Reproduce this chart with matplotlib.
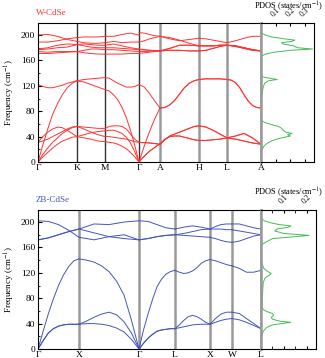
import matplotlib
matplotlib.use('Agg')
import matplotlib.pyplot as plt
from matplotlib.ticker import MultipleLocator
import numpy as np

plt.rcParams['font.family'] = ['Liberation Serif', 'DejaVu Serif']
plt.rcParams['mathtext.fontset'] = 'stix'
plt.rcParams['font.size'] = 6.8

# ---------------- W-CdSe (wurtzite) ----------------
w_labels = ['Γ', 'K', 'M', 'Γ', 'A', 'H', 'L', 'A']
w_kpts = [0, 39, 67, 101, 122, 161, 189, 223]   # path distance of symmetry points
# each band: frequencies (cm^-1) read at evenly spaced points of every segment
# segments: Γ-K, K-M, M-Γ, Γ-A, A-H, H-L, L-A
w_bands = [
    [[0, 27, 52, 75, 92, 106, 117, 124, 128], [128, 126, 122, 118, 114],
     [114, 112, 106, 98, 86, 70, 50, 26, 0], [0, 25, 48, 68, 85],
     [85, 86, 90, 97, 107, 117, 124, 128, 130], [130, 131, 131, 131, 130],
     [130, 129, 125, 117, 106, 96, 89, 86, 85]],
    [[122, 119, 117, 117, 119, 121, 124, 126, 128], [128, 130, 131, 132, 133],
     [133, 132, 128, 124, 121, 118, 118, 119, 122], [122, 118, 108, 96, 85],
     [85, 86, 90, 97, 107, 117, 124, 128, 130], [130, 131, 131, 131, 130],
     [130, 129, 125, 117, 106, 96, 89, 86, 85]],
    [[31, 40, 47, 52, 55, 54, 50, 45, 40], [40, 43, 46, 48, 49],
     [49, 50, 50, 48, 45, 39, 30, 16, 0], [0, 5, 9, 13, 17, 20, 23, 26, 28],
     [28, 35, 41, 44, 47, 50, 53, 56, 57], [57, 55, 50, 44, 38], [38, 41, 45, 38, 28]],
    [[31, 33, 36, 40, 44, 48, 52, 55, 56], [56, 55, 54, 53, 53],
     [53, 56, 57, 57, 56, 52, 44, 36, 31], [31, 30.5, 30, 29, 28],
     [28, 36, 40, 41, 41, 39, 37, 35, 34], [34, 34, 35, 36, 38], [38, 36, 33, 30, 28]],
    [[0, 12, 22, 31, 38, 45, 50, 54, 56], [56, 52, 47, 43, 40],
     [40, 40, 39, 38, 37, 36, 34, 32, 31], [31, 30.5, 30, 29, 28],
     [28, 35, 41, 44, 47, 50, 53, 56, 57], [57, 55, 50, 44, 38], [38, 41, 45, 38, 28]],
    [[0, 8, 15, 22, 28, 33, 36, 39, 40], [40, 38, 36, 33, 32],
     [32, 31, 30, 28, 25, 21, 15, 8, 0], [0, 5, 9, 13, 17, 20, 23, 26, 28],
     [28, 36, 40, 41, 41, 39, 37, 35, 34], [34, 34, 35, 36, 38], [38, 36, 33, 30, 28]],
    [[200, 201, 198, 193, 190], [190, 188, 187, 187, 188], [188, 190, 188, 189, 189],
     [189, 191, 194, 196, 198], [198, 196, 192, 187, 183], [183, 183, 183, 184, 184],
     [184, 183, 180, 177, 175]],
    [[189, 189, 191, 194, 196], [196, 197, 197, 197, 198], [198, 198, 201, 203, 200],
     [204, 203, 201, 199, 198], [198, 194, 191, 193, 195], [195, 194, 192, 190, 188],
     [188, 191, 195, 198, 198]],
    [[178, 180, 184, 186, 185], [185, 186, 185, 184, 184], [184, 186, 183, 180, 178],
     [178, 177, 176, 175.5, 175], [175, 176, 176, 175, 175], [175, 176, 179, 182, 184],
     [184, 182, 179, 176, 175]],
    [[177, 178, 180, 181, 185], [185, 183, 181, 180, 180], [180, 180, 179, 178, 177],
     [177, 176.5, 176, 175.5, 175], [175, 179, 184, 184, 183], [183, 183, 183, 184, 184],
     [184, 183, 180, 177, 175]],
    [[174, 173, 174, 174, 174], [174, 176, 178, 178, 177], [177, 177, 176, 175, 174],
     [174, 174, 174.5, 175, 175], [175, 176, 176, 175, 175], [175, 176, 179, 182, 184],
     [184, 182, 179, 176, 175]],
    [[171, 171, 172, 173, 174], [174, 172, 171, 170, 170], [170, 170, 170, 171, 171],
     [171, 172, 173, 174, 175], [175, 179, 184, 184, 183], [183, 183, 183, 184, 184],
     [184, 183, 180, 177, 175]],
]
w_dos_freq = [0, 10, 18, 25, 30, 34, 37, 39, 41, 43, 45, 47, 50, 53, 56, 59, 62, 65, 68, 98, 105, 112,
              118, 124, 128, 130, 132, 134, 136, 164, 167, 170, 173, 176, 178, 180, 183, 186, 188, 190,
              192, 194, 197, 200, 203, 206, 219]
w_dos = [0, 0, 0.005, 0.02, 0.045, 0.08, 0.12, 0.16, 0.2, 0.18, 0.21, 0.17, 0.15, 0.14, 0.12, 0.07, 0.03,
         0.005, 0, 0, 0.005, 0.01, 0.015, 0.025, 0.05, 0.11, 0.06, 0.01, 0, 0, 0.005, 0.03, 0.09, 0.2, 0.35,
         0.25, 0.22, 0.15, 0.14, 0.21, 0.23, 0.16, 0.07, 0.03, 0.005, 0, 0]

# ---------------- ZB-CdSe (zinc blende) ----------------
zb_labels = ['Γ', 'X', 'Γ', 'L', 'X', 'W', 'L']
zb_kpts = [0, 41, 101, 137, 172, 194, 223]
# segments: Γ-X, X-Γ, Γ-L, L-X, X-W, W-L
zb_bands = [
    [[0, 28, 55, 79, 100, 117, 130, 139, 142], [142, 140, 137, 131, 122, 107, 85, 45, 0],
     [0, 30, 55, 78, 98, 110, 118, 122, 124], [124, 121, 119, 120, 123, 128, 135, 139, 141],
     [141, 139, 136, 133, 131], [131, 127, 121, 121, 124]],
    [[0, 13, 25, 32, 36, 38, 39, 39, 39], [39, 40, 40, 39, 37, 33, 27, 15, 0],
     [0, 9, 17, 23, 28, 30, 31, 32, 32], [32, 38, 45, 51, 53, 51, 47, 42, 39],
     [39, 48, 55, 58, 58], [58, 56, 48, 40, 32]],
    [[0, 13, 25, 32, 36, 38, 39, 39, 39], [39, 44, 50, 55, 58, 54, 43, 25, 0],
     [0, 9, 17, 23, 28, 30, 31, 32, 32], [32, 35, 38, 39, 39],
     [39, 42, 45, 47, 48], [48, 46, 42, 37, 32]],
    [[172, 175, 180, 185, 189], [189, 197, 196, 200, 202], [202, 201, 196, 191, 189],
     [189, 192, 194, 192, 189], [189, 193, 196, 197, 197], [197, 197, 194, 191, 189]],
    [[172, 175, 180, 185, 189], [189, 183, 177, 174, 172], [172, 174, 177, 179, 180],
     [180, 182, 185, 188, 189], [189, 189, 189, 188, 188], [188, 186, 184, 182, 180]],
    [[202, 201, 196, 187, 176], [176, 172, 177, 180, 172], [172, 174, 177, 179, 180],
     [180, 179, 178, 177, 176], [176, 174, 171, 169, 168], [168, 170, 174, 178, 180]],
]
zb_dos_freq = [0, 10, 20, 28, 34, 38, 40, 42, 44, 47, 50, 53, 56, 59, 62, 66, 80, 95, 105, 112, 116, 119,
               122, 127, 133, 139, 142, 163, 166, 170, 174, 177, 179, 182, 186, 189, 192, 194, 196, 199,
               202, 205, 207, 219]
zb_dos = [0, 0, 0.003, 0.01, 0.025, 0.05, 0.09, 0.13, 0.08, 0.05, 0.045, 0.055, 0.05, 0.025, 0.01, 0.005,
          0.006, 0.008, 0.01, 0.018, 0.035, 0.045, 0.03, 0.012, 0.006, 0.002, 0, 0, 0.01, 0.03, 0.05, 0.15,
          0.21, 0.1, 0.06, 0.07, 0.12, 0.13, 0.08, 0.04, 0.015, 0.003, 0, 0]

fig = plt.figure(figsize=(3.25, 3.58), dpi=100)
W, H = 325, 358


def box(x0, y0, x1, y1):
    return [x0 / W, 1 - y1 / H, (x1 - x0) / W, (y1 - y0) / H]


def draw_panel(ax, pax, kpts, labels, bands, color, dos_f, dos_v, dos_max, dos_ticks, dos_minor,
               dark_lines):
    for band in bands:
        for i, seg in enumerate(band):
            ks = np.linspace(kpts[i], kpts[i + 1], len(seg))
            ax.plot(ks, seg, color=color, lw=0.7)
    for j, k in enumerate(kpts[1:-1]):
        if j < dark_lines:
            ax.axvline(k, color='#333333', lw=1.0, zorder=0)
        else:
            ax.axvline(k, color='#999999', lw=1.8, zorder=0)
    ax.set_xlim(kpts[0], kpts[-1])
    ax.set_ylim(0, 219)
    ax.set_xticks(kpts)
    ax.set_xticklabels(labels, fontsize=6.8)
    ax.set_yticks([0, 40, 80, 120, 160, 200])
    ax.set_yticklabels(['0', '40', '80', '120', '160', '200'], fontsize=6.8)
    ax.yaxis.set_minor_locator(MultipleLocator(20))
    ax.tick_params(axis='x', length=0, pad=1.5)
    ax.tick_params(axis='y', which='both', direction='in', pad=2)
    ax.tick_params(axis='y', which='major', length=3)
    ax.tick_params(axis='y', which='minor', length=1.5)
    ax.set_ylabel('Frequency (cm$^{-1}$)', labelpad=3, fontsize=6.5)
    for s in ax.spines.values():
        s.set_linewidth(0.8)
    ax.spines['right'].set_color('#999999')
    ax.spines['right'].set_linewidth(1.8)

    pax.plot(dos_v, dos_f, color='#44bb55', lw=0.7)
    pax.set_ylim(0, 219)
    pax.set_xlim(0, dos_max)
    pax.set_yticks([])
    pax.set_xticks(dos_ticks)
    pax.set_xticks(np.arange(dos_minor, dos_max, dos_minor), minor=True)
    pax.tick_params(axis='x', which='both', direction='in', top=True, bottom=True,
                    labelbottom=False, labeltop=False, length=2)
    for t in dos_ticks:
        pax.text(t, 1.03, '%.1f' % t, transform=pax.get_xaxis_transform(), rotation=45,
                 ha='center', va='bottom', fontsize=5.5)
    for s in pax.spines.values():
        s.set_linewidth(0.8)
    pax.spines['left'].set_color('#999999')
    pax.spines['left'].set_linewidth(1.8)


ax1 = fig.add_axes(box(38, 23, 261, 162))
pax1 = fig.add_axes(box(261, 23, 314, 162))
draw_panel(ax1, pax1, w_kpts, w_labels, w_bands, '#ff3333', w_dos_freq, w_dos, 0.36,
           [0.1, 0.2, 0.3], 0.1, 3)

ax2 = fig.add_axes(box(38, 210, 261, 349))
pax2 = fig.add_axes(box(261, 210, 316, 349))
draw_panel(ax2, pax2, zb_kpts, zb_labels, zb_bands, '#4455bb', zb_dos_freq, zb_dos, 0.24,
           [0.1, 0.2], 0.05, 0)

fig.text(36 / W, 1 - 13 / H, 'W-CdSe', color='#ff3333', ha='left', va='center', fontsize=6.5)
fig.text(36 / W, 1 - 200 / H, 'ZB-CdSe', color='#4455bb', ha='left', va='center', fontsize=6.5)
fig.text(323 / W, 1 - 6 / H, 'PDOS (states/cm$^{-1}$)', ha='right', va='center', fontsize=6)
fig.text(323 / W, 1 - 192 / H, 'PDOS (states/cm$^{-1}$)', ha='right', va='center', fontsize=6)

fig.savefig('out.png', dpi=100)
